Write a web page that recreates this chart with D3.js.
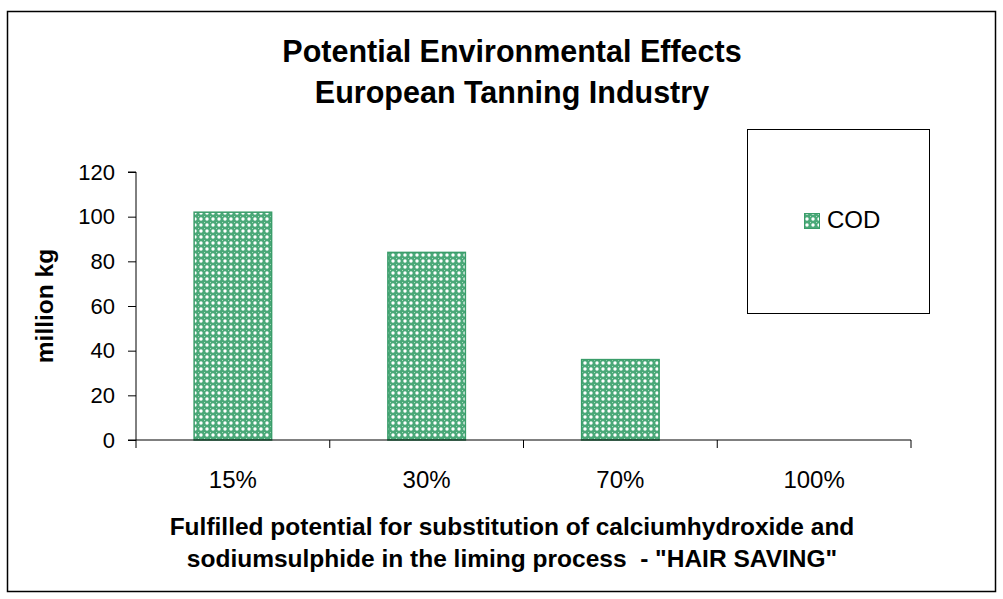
<!DOCTYPE html>
<html>
<head>
<meta charset="utf-8">
<script src="https://cdn.jsdelivr.net/npm/d3@7"></script>
<style>
  html, body { margin: 0; padding: 0; background: #fff; }
  svg { display: block; font-family: "Liberation Sans", Arial, sans-serif; }
  svg text { white-space: pre; }
</style>
</head>
<body>
<svg id="chart" width="1003" height="599"></svg>
<script>
// Chart data
const categories = ["15%", "30%", "70%", "100%"];
const codValues = [102, 84, 36, 0];
const yTicks = [0, 20, 40, 60, 80, 100, 120];
const seriesName = "COD";
const titleLines = ["Potential Environmental Effects", "European Tanning Industry"];
const xTitleLines = [
  "Fulfilled potential for substitution of calciumhydroxide and",
  "sodiumsulphide in the liming process  - \"HAIR SAVING\""
];
const yTitle = "million kg";

const svg = d3.select("#chart");
const plot = { left: 136, right: 911, top: 172, bottom: 440 };
const green = "#3a9d6a";

// Dotted green fill used for the bars and the legend swatch
const defs = svg.append("defs");
const pat = defs.append("pattern")
  .attr("id", "codFill")
  .attr("patternUnits", "userSpaceOnUse")
  .attr("width", 6).attr("height", 6);
pat.append("rect").attr("width", 6).attr("height", 6).attr("fill", "#4aa878");
pat.append("circle").attr("cx", 3).attr("cy", 3).attr("r", 1.7).attr("fill", "#ffffff");
pat.append("rect").attr("x", 0).attr("y", 0).attr("width", 1).attr("height", 1).attr("fill", "#a9dcbd");

// Outer frame
svg.append("rect")
  .attr("x", 7.5).attr("y", 11.5)
  .attr("width", 988).attr("height", 580)
  .attr("fill", "#fff").attr("stroke", "#000").attr("stroke-width", 1.5);

// One band per category; bars take the middle 40% of each band
const xCat = d3.scaleBand().domain(categories).range([plot.left, plot.right]);
const y = d3.scaleLinear().domain([0, 120]).range([plot.bottom, plot.top]);

// Bars
svg.append("g").selectAll("rect")
  .data(categories.map((c, i) => ({ c, v: codValues[i] })).filter(d => d.v > 0))
  .join("rect")
  .attr("x", d => xCat(d.c) + xCat.bandwidth() * 0.3)
  .attr("width", xCat.bandwidth() * 0.4)
  .attr("y", d => y(d.v))
  .attr("height", d => y(0) - y(d.v))
  .attr("fill", "url(#codFill)")
  .attr("stroke", green)
  .attr("stroke-width", 1.5);

// Y axis
const yAxis = d3.axisLeft(y).tickValues(yTicks).tickSize(8).tickPadding(13);
const gy = svg.append("g").attr("transform", `translate(${plot.left},0)`).call(yAxis);
gy.select(".domain").attr("stroke", "#000").attr("d", `M-8,${plot.top}H0V${plot.bottom}`);
gy.selectAll(".tick line").attr("stroke", "#000");
gy.selectAll(".tick text")
  .attr("font-size", 22).attr("fill", "#000")
  .attr("font-family", "Liberation Sans, Arial, sans-serif");

// X axis: baseline with separators between categories
const gx = svg.append("g").attr("transform", `translate(0,${plot.bottom})`);
gx.append("line")
  .attr("x1", plot.left - 8).attr("x2", plot.right)
  .attr("stroke", "#000").attr("stroke-width", 1);
const sepPositions = categories.map(c => xCat(c)).concat([plot.right]);
gx.selectAll("line.sep").data(sepPositions).join("line")
  .attr("class", "sep")
  .attr("x1", d => d).attr("x2", d => d)
  .attr("y1", 0).attr("y2", 8)
  .attr("stroke", "#000");
gx.selectAll("text.cat").data(categories).join("text")
  .attr("class", "cat")
  .attr("x", d => xCat(d) + xCat.bandwidth() / 2)
  .attr("y", 48)
  .attr("text-anchor", "middle")
  .attr("font-size", 24)
  .text(d => d);

// Chart title
svg.append("g").selectAll("text").data(titleLines).join("text")
  .attr("x", 512).attr("y", (d, i) => 62 + i * 41)
  .attr("text-anchor", "middle")
  .attr("font-size", 30.5).attr("font-weight", "bold")
  .text(d => d);

// Axis titles
svg.append("g").selectAll("text").data(xTitleLines).join("text")
  .attr("x", 512).attr("y", (d, i) => 535 + i * 32)
  .attr("text-anchor", "middle")
  .attr("font-size", 24.5).attr("font-weight", "bold")
  .text(d => d);

svg.append("text")
  .attr("transform", `translate(53,${(plot.top + plot.bottom) / 2}) rotate(-90)`)
  .attr("text-anchor", "middle")
  .attr("font-size", 24.5).attr("font-weight", "bold")
  .text(yTitle);

// Legend
const lg = svg.append("g");
lg.append("rect")
  .attr("x", 747.5).attr("y", 129.5).attr("width", 182).attr("height", 184)
  .attr("fill", "#fff").attr("stroke", "#000").attr("stroke-width", 1);
lg.append("rect")
  .attr("x", 804.5).attr("y", 213.5).attr("width", 15).attr("height", 15)
  .attr("fill", "url(#codFill)").attr("stroke", green);
lg.append("text")
  .attr("x", 827).attr("y", 228)
  .attr("font-size", 24)
  .text(seriesName);
</script>
</body>
</html>
